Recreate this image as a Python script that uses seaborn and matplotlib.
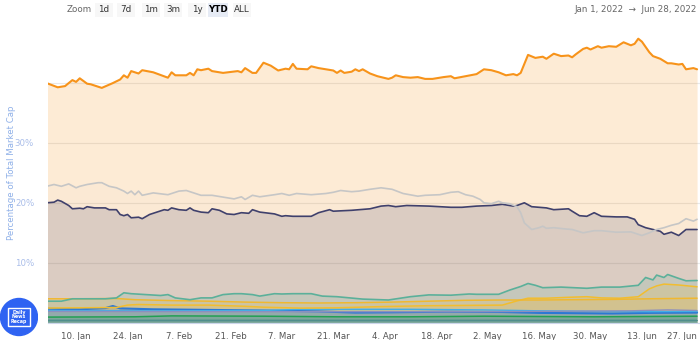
import numpy as np
import pandas as pd
import matplotlib
matplotlib.use("Agg")
import matplotlib.pyplot as plt
import matplotlib.transforms as mtransforms
import seaborn as sns
from matplotlib.patches import Circle, FancyBboxPatch, Rectangle

# ---------------- data (days after 1 Jan 2022, % of total market cap) ----------------
btc_days = [1,4,6,8,9,10,12,13,16,19,21,22,23,24,26,27,30,34,35,36,39,40,41,42,43,45,46,49,53,54,55,57,58,60,62,64,66,67,68,69,72,73,75,79,80,81,82,84,85,86,87,89,91,94,95,96,98,100,102,104,106,109,111,112,115,118,120,122,124,126,128,129,130,132,134,136,137,139,141,143,144,145,147,148,149,151,152,154,156,158,160,161,162,163,165,166,168,170,171,173,174,175,177,178]
btc_vals = [39.9,39.2,39.4,40.4,40.1,40.7,39.8,39.7,39.1,39.9,40.5,41.2,40.8,41.9,41.5,42.05,41.7,40.8,41.7,41.2,41.2,41.6,41.2,42.2,42.05,42.3,41.9,41.6,41.9,41.7,42.4,41.6,41.6,43.3,42.8,42.0,42.3,42.2,43.1,42.3,42.2,42.7,42.4,42.0,41.6,42.0,41.6,41.8,42.2,41.9,42.2,41.5,41.05,40.6,40.8,41.2,40.9,40.8,40.9,40.6,40.6,40.9,41.05,40.7,41.05,41.4,42.2,42.05,41.7,41.2,41.4,41.2,41.6,44.6,44.1,44.3,43.95,44.8,44.4,44.5,44.2,44.7,45.6,45.8,45.5,46.05,45.8,46.05,45.95,46.7,46.2,46.45,47.3,46.8,45.05,44.4,43.95,43.2,43.2,43.0,43.1,42.2,42.4,42.2]

oth_days = [1,3,5,7,9,10,12,15,16,18,20,22,23,24,25,26,27,30,34,37,39,43,46,50,52,54,55,57,59,63,65,67,69,73,77,79,81,84,86,89,92,95,98,102,104,108,111,113,115,117,119,120,122,124,125,127,129,130,131,133,135,136,137,139,142,144,147,150,152,156,160,163,165,167,169,171,173,174,175,177,178]
oth_vals = [22.7,23.0,22.7,23.1,22.45,22.7,23.0,23.3,23.3,22.7,22.45,21.9,21.5,21.9,21.3,21.9,21.2,21.6,21.3,21.9,22.0,21.2,21.2,20.8,20.6,20.95,20.5,21.2,20.95,21.3,21.5,21.2,21.5,21.3,21.5,21.7,22.0,21.8,21.9,22.2,22.45,22.2,21.5,21.05,21.2,21.3,21.7,21.8,21.3,21.05,20.5,19.95,19.8,20.2,19.95,19.8,19.3,18.3,16.6,15.5,15.8,16.05,15.7,15.8,15.6,15.5,14.95,15.3,15.3,15.05,15.1,14.5,14.95,15.5,15.8,16.2,16.5,16.9,17.3,16.9,17.2]

eth_days = [1,3,4,5,7,8,10,11,12,14,17,18,20,21,22,23,24,26,27,29,31,33,34,35,37,39,40,41,43,45,46,48,50,52,54,56,57,59,63,65,66,68,73,75,78,79,84,86,89,92,94,96,99,105,111,114,118,122,125,128,129,131,133,135,137,139,143,144,146,148,150,152,156,159,161,162,164,166,168,169,171,173,175,177,178]
eth_vals = [19.95,20.05,20.4,20.2,19.5,18.95,19.05,18.95,19.3,19.1,19.1,18.8,18.8,18.0,17.8,18.0,17.45,17.55,17.3,18.0,18.4,18.8,18.7,19.1,18.8,18.7,19.1,18.7,18.4,18.3,18.95,18.7,18.1,18.0,18.3,18.2,18.8,18.4,18.1,17.7,17.8,17.7,17.7,18.3,18.8,18.55,18.7,18.8,18.95,19.4,19.5,19.3,19.5,19.4,19.2,19.2,19.4,19.5,19.7,19.4,19.5,19.95,19.3,19.2,19.1,18.8,18.95,18.55,17.8,17.7,18.3,17.7,17.6,17.6,17.2,16.3,15.8,15.5,15.2,14.7,15.05,14.5,15.5,15.5,15.5]

usdt_days = [1,5,8,11,17,20,22,24,28,32,34,36,40,43,46,49,52,54,57,59,63,65,68,73,76,80,87,94,100,105,111,116,118,124,127,130,132,134,136,141,148,152,157,162,164,166,167,169,170,173,175,178]
usdt_vals = [3.55,3.55,3.95,3.95,3.95,4.1,4.95,4.8,4.65,4.5,4.65,4.1,3.8,4.1,4.1,4.65,4.8,4.8,4.65,4.4,4.8,4.75,4.8,4.8,4.4,4.3,3.9,3.75,4.3,4.6,4.55,4.75,4.7,4.7,5.4,6.0,6.5,6.2,5.8,5.9,5.7,5.9,5.9,6.2,7.5,7.1,7.9,7.5,8.0,7.35,6.95,7.0]

bnb_days = [1,10,20,25,35,45,55,65,75,85,95,105,115,125,135,145,155,165,178]
bnb_vals = [3.95,3.95,4.0,3.8,3.65,3.55,3.4,3.3,3.25,3.3,3.4,3.55,3.7,3.75,3.75,3.8,3.85,3.95,4.05]

busd_days = [1,10,20,23,26,35,45,55,60,70,80,92,105,115,125,129,132,137,143,148,152,157,162,165,167,169,173,178]
busd_vals = [2.4,2.45,2.5,2.9,3.0,2.9,2.9,2.7,2.55,2.4,2.45,2.65,2.8,2.85,2.9,3.6,4.05,4.05,4.2,4.3,4.1,4.05,4.3,5.6,6.1,6.4,6.25,5.95]

usdc_days = [1,10,17,19,21,30,45,60,75,85,95,110,125,135,145,155,165,178]
usdc_vals = [2.3,2.2,2.4,2.75,2.35,2.2,2.1,2.0,1.85,1.65,1.7,1.8,1.75,1.6,1.55,1.5,1.6,1.65]

ada_days = [1,30,60,70,100,120,135,150,165,178]
ada_vals = [2.0,1.95,2.0,2.2,2.2,2.1,1.95,1.85,1.8,1.85]

xrp_days = [1,60,120,160,170,178]
xrp_vals = [1.85,1.8,1.8,1.95,2.1,2.0]

sol_days = [1,25,35,60,80,100,120,150,178]
sol_vals = [0.9,0.95,1.1,1.05,0.95,0.95,1.05,0.95,1.05]

doge_days = [1,60,120,178]
doge_vals = [0.5,0.5,0.5,0.5]

y_ticks = [0, 10, 20, 30, 40]
y_labels = ["", "10%", "20%", "30%", ""]
x_tick_dates = ["2022-01-10","2022-01-24","2022-02-07","2022-02-21","2022-03-07","2022-03-21",
                "2022-04-04","2022-04-18","2022-05-02","2022-05-16","2022-05-30","2022-06-13","2022-06-27"]
zoom_buttons = ["1d", "7d", "1m", "3m", "1y", "YTD", "ALL"]
range_text = "Jan 1, 2022  \u2192  Jun 28, 2022"
y_title = "Percentage of Total Market Cap"

# ---------------- styling ----------------
series = [
    (btc_days, btc_vals, "#f7931a", 0.18, 1.5),
    (oth_days, oth_vals, "#c6c6c6", 0.03, 1.2),
    (eth_days, eth_vals, "#3f406c", 0.17, 1.2),
    (usdt_days, usdt_vals, "#5bb09a", 0.17, 1.2),
    (bnb_days, bnb_vals, "#f0b830", 0.17, 1.1),
    (busd_days, busd_vals, "#f2bd2e", 0.17, 1.1),
    (xrp_days, xrp_vals, "#8c8fbe", 0.17, 1.0),
    (ada_days, ada_vals, "#43aee6", 0.17, 1.0),
    (usdc_days, usdc_vals, "#2c78d4", 0.2, 1.5),
    (sol_days, sol_vals, "#22a052", 0.2, 1.1),
    (doge_days, doge_vals, "#4f8e8c", 0.35, 0.8),
]

sns.set_theme(style="white")
plt.rcParams["font.family"] = ["DejaVu Sans"]

fig = plt.figure(figsize=(7, 3.4), dpi=100)
ax = fig.add_axes([48/700, 1 - 322.5/340, 652/700, 300/340])

base = pd.Timestamp("2022-01-01")
for days, vals, col, alpha, lw in series:
    df = pd.DataFrame({"date": base + pd.to_timedelta(days, unit="D"), "value": vals})
    ax.fill_between(df["date"], df["value"], 0, color=col, alpha=alpha, linewidth=0, zorder=2)
for days, vals, col, alpha, lw in series[::-1]:
    df = pd.DataFrame({"date": base + pd.to_timedelta(days, unit="D"), "value": vals})
    sns.lineplot(data=df, x="date", y="value", ax=ax, color=col, linewidth=lw, zorder=3)

ax.set_xlim(base + pd.Timedelta(days=1.36), base + pd.Timedelta(days=178.8))
ax.set_ylim(0, 50)
ax.set_yticks(y_ticks)
ax.set_yticklabels(y_labels)
ax.yaxis.grid(True, color="#e8e8e8", linewidth=0.8, zorder=0)
ax.xaxis.grid(False)
ax.set_axisbelow(True)
xt = pd.to_datetime(x_tick_dates)
ax.set_xticks(xt)
ax.set_xticklabels([f"{d.day}. {d.strftime('%b')}" for d in xt])
ax.tick_params(axis="x", colors="#ccd6eb", length=5, width=0.8, direction="out", labelsize=6.2, labelcolor="#555555", pad=2)
ax.tick_params(axis="y", length=0, labelsize=6.2, labelcolor="#a9bde9", pad=10)
# keep the last date label inside the canvas
last = ax.get_xticklabels()[-1]
last.set_transform(last.get_transform() + mtransforms.ScaledTranslation(-11/100, 0, fig.dpi_scale_trans))
for s in ["top", "right", "left"]:
    ax.spines[s].set_visible(False)
ax.spines["bottom"].set_color("#ccd6eb")
ax.spines["bottom"].set_linewidth(0.8)
ax.set_xlabel("")
ax.set_ylabel("")
fig.text(12/700, 1 - 173/340, y_title, color="#8fb0e8", fontsize=6.2, rotation=90, ha="center", va="center")

# top range selector
fig.text(79/700, 1 - 10/340, "Zoom", fontsize=6.3, color="#666666", ha="center", va="center")
btn_x = [104, 126, 151, 173, 197, 218, 242]
for label, bx in zip(zoom_buttons, btn_x):
    sel = label == "YTD"
    w = 20 if sel else 18
    fig.patches.append(FancyBboxPatch(((bx - w / 2) / 700, 1 - 17/340), w / 700, 14/340,
                                      boxstyle="square,pad=0", transform=fig.transFigure,
                                      facecolor="#e6ebf5" if sel else "#f7f7f7", edgecolor="none"))
    fig.text(bx/700, 1 - 10/340, label, fontsize=6.3, ha="center", va="center",
             color="#000000" if sel else "#333333", fontweight="bold" if sel else "normal")
fig.text(697/700, 1 - 10/340, range_text, fontsize=6.3, color="#666666", ha="right", va="center")

# logo
logo_ax = fig.add_axes([0, 1 - 337/340, 38/700, 40/340])
logo_ax.set_xlim(0, 38); logo_ax.set_ylim(0, 40); logo_ax.axis("off")
logo_ax.add_patch(Circle((19, 20), 18.5, color="#2f63f2"))
logo_ax.add_patch(Rectangle((8, 11), 22, 18, fill=False, edgecolor="white", linewidth=1))
logo_ax.text(19, 20, "Daily\nNews\nRecap", color="white", fontsize=3.4, fontweight="bold", ha="center", va="center", linespacing=0.9)

fig.savefig("out.png", dpi=100)
